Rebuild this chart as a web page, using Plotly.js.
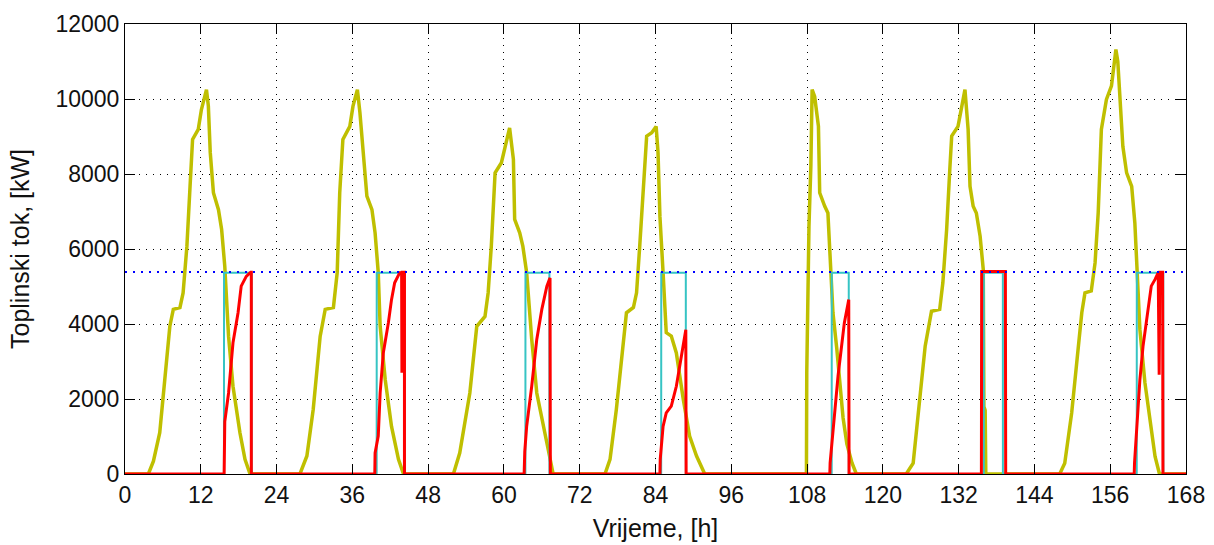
<!DOCTYPE html>
<html>
<head>
<meta charset="utf-8">
<script src="https://cdn.plot.ly/plotly-3.0.1.min.js"></script>
<style>html,body{margin:0;padding:0;background:#fff;}#chart{width:1214px;height:545px;}</style>
</head>
<body>
<div id="chart"></div>
<script>
// Time axis ticks [h]
const xTicks = [0, 12, 24, 36, 48, 60, 72, 84, 96, 108, 120, 132, 144, 156, 168];
const yTicks = [0, 2000, 4000, 6000, 8000, 10000, 12000];

// Yellow series: heat flow profile [h], [kW]
const yellowT = [0, 3.7, 4.5, 5.5, 6.3, 7.1, 7.65, 8.7, 9.2, 9.8, 10.3, 10.7, 11.6, 12.1, 12.9, 13.2, 13.5, 14.0, 14.8, 15.3, 15.8, 16.4, 17.1, 18.2, 19.0, 19.8,
  27.7, 28.8, 29.8, 30.9, 31.7, 33.0, 33.6, 34.0, 34.5, 35.6, 36.1, 36.8, 37.2, 37.7, 38.3, 39.1, 39.6, 40.1, 40.4, 41.2, 42.2, 43.3, 44.1,
  52.0, 53.0, 54.6, 55.7, 57.0, 57.5, 58.0, 58.6, 59.6, 60.4, 60.9, 61.5, 61.7, 62.5, 63.0, 63.6, 64.4, 65.2, 66.3, 67.3, 67.8,
  76.0, 76.8, 77.8, 78.6, 79.4, 80.5, 81.0, 81.5, 82.1, 82.6, 83.4, 84.1, 84.4, 84.7, 85.2, 85.7, 86.5, 87.3, 88.4, 89.4, 90.5, 91.8,
  107.9, 107.95, 108.3, 108.6, 108.8, 109.2, 109.8, 110.0, 110.8, 111.3, 111.6, 112.1, 112.7, 113.2, 113.7, 114.3, 115.1, 115.8,
  123.7, 124.8, 125.9, 126.7, 127.7, 129.0, 129.5, 130.1, 130.6, 130.9, 131.9, 132.5, 133.0, 133.5, 133.8, 134.3, 134.8, 135.4, 135.9, 136.0, 136.2, 136.3,
  148.0, 148.8, 149.9, 150.7, 151.5, 152.0, 153.0, 153.6, 154.1, 154.6, 155.4, 156.2, 156.9, 157.2, 157.5, 158.0, 158.6, 159.4, 159.9, 160.3, 160.7, 161.5, 162.3, 163.1, 163.8, 168];
const yellowQ = [0, 0, 340, 1100, 2520, 3940, 4390, 4440, 4830, 6070, 7670, 8920, 9190, 9720, 10250, 9810, 8570, 7500, 7050, 6520, 5540, 3670, 2340, 1100, 390, 0,
  0, 480, 1720, 3670, 4390, 4440, 5370, 7500, 8920, 9270, 9810, 10250, 9630, 8480, 7410, 7050, 6430, 5370, 3940, 2520, 1270, 390, 0,
  0, 560, 2160, 3940, 4200, 4830, 6070, 8030, 8300, 8920, 9230, 8390, 6790, 6430, 6070, 5370, 3590, 2160, 1270, 390, 0,
  0, 390, 1720, 3050, 4300, 4440, 4830, 6070, 7500, 9010, 9100, 9270, 8570, 6870, 5370, 3770, 3680, 3230, 1990, 1010, 480, 0,
  0, 2700, 6610, 8210, 10250, 10070, 9270, 7500, 7140, 6960, 5950, 4300, 3350, 2300, 1500, 800, 300, 0,
  0, 290, 2070, 3410, 4340, 4390, 5100, 6520, 8120, 9010, 9270, 9810, 10250, 9190, 7670, 7140, 6960, 6340, 5450, 1800, 1700, 0,
  0, 290, 1630, 2970, 4300, 4830, 4880, 5630, 6970, 9190, 9990, 10350, 11320, 11000, 9990, 8740, 8030, 7670, 6700, 5450, 3850, 2430, 1360, 470, 0, 0];

// Red series [h], [kW]
const redT = [0, 15.7, 15.8, 16.4, 17.1, 17.9, 18.4, 19.2, 19.9, 20.0, 20.0,
  39.55, 39.6, 40.1, 40.4, 40.9, 41.7, 42.2, 42.7, 43.5, 43.8, 43.85, 43.9, 44.25, 44.25,
  63.2, 63.3, 63.6, 64.4, 65.2, 66.0, 66.8, 67.3, 67.35,
  84.7, 84.75, 85.2, 85.7, 86.5, 87.3, 87.8, 88.4, 88.8, 88.85,
  111.6, 111.65, 112.4, 112.9, 113.4, 113.9, 114.5, 114.6, 114.65,
  135.6, 135.65, 139.4, 139.45,
  159.8, 159.85, 160.2, 160.7, 161.2, 161.8, 162.5, 163.1, 163.6, 163.75, 163.85, 164.3, 164.35, 168];
const redQ = [0, 0, 1400, 2160, 3500, 4300, 5010, 5270, 5380, 5380, 0,
  0, 560, 1010, 2160, 3230, 4030, 4650, 5100, 5370, 5370, 2700, 5380, 5380, 0,
  0, 600, 1270, 2340, 3590, 4390, 5010, 5230, 0,
  0, 400, 1270, 1630, 1810, 2340, 2880, 3500, 3850, 0,
  0, 300, 1720, 2610, 3320, 4030, 4560, 4650, 0,
  0, 5400, 5400, 0,
  0, 300, 1190, 2520, 3410, 4210, 5010, 5190, 5370, 2650, 5380, 5380, 0, 0];

// Cyan series [h], [kW]
const cyanT = [0, 15.67, 15.68, 20.05, 20.06, 39.85, 39.86, 44.3, 44.31, 63.4, 63.41, 67.2, 67.21, 84.9, 84.91, 88.8, 88.81,
  111.9, 111.91, 114.6, 114.61, 135.98, 135.99, 139.0, 139.01, 160.2, 160.21, 164.4, 164.41, 168];
const cyanQ = [0, 0, 5370, 5370, 0, 0, 5370, 5370, 0, 0, 5370, 5370, 0, 0, 5370, 5370, 0,
  0, 5370, 5370, 0, 0, 5370, 5370, 0, 0, 5370, 5370, 0, 0];

// Blue dotted limit
const limitT = [0, 168];
const limitQ = [5390, 5390];

const traces = [
  {x: yellowT, y: yellowQ, type: 'scatter', mode: 'lines', line: {color: '#bfbf00', width: 3.5}, hoverinfo: 'skip'},
  {x: cyanT, y: cyanQ, type: 'scatter', mode: 'lines', line: {color: '#36c4c4', width: 2}, hoverinfo: 'skip'},
  {x: redT, y: redQ, type: 'scatter', mode: 'lines', line: {color: '#ff0000', width: 3}, hoverinfo: 'skip'},
  {x: limitT, y: limitQ, type: 'scatter', mode: 'lines', line: {color: '#0000ff', width: 2, dash: '2px,6px'}, hoverinfo: 'skip'}
];

const font = {family: '"Liberation Sans", Arial, sans-serif', color: '#111'};
const layout = {
  width: 1214, height: 545,
  margin: {l: 125, r: 28, t: 24, b: 71, pad: 0},
  paper_bgcolor: '#fff', plot_bgcolor: '#fff',
  showlegend: false,
  font: font,
  xaxis: {
    range: [0, 168], tickvals: xTicks, ticktext: xTicks.map(String),
    ticks: 'inside', ticklen: 10, tickcolor: '#000', tickwidth: 1,
    showline: true, linecolor: '#000', linewidth: 1, mirror: 'ticks',
    showgrid: true, gridcolor: '#000', gridwidth: 1, griddash: '1px,6px',
    zeroline: false,
    tickfont: {family: font.family, size: 23, color: '#111'},
    title: {text: 'Vrijeme, [h]', font: {family: font.family, size: 25, color: '#111'}, standoff: 12}
  },
  yaxis: {
    range: [0, 12000], tickvals: yTicks, ticktext: yTicks.map(String),
    ticks: 'inside', ticklen: 10, tickcolor: '#000', tickwidth: 1,
    showline: true, linecolor: '#000', linewidth: 1, mirror: 'ticks',
    showgrid: true, gridcolor: '#000', gridwidth: 1, griddash: '1px,6px',
    zeroline: false,
    tickfont: {family: font.family, size: 23, color: '#111'},
    title: {text: 'Toplinski tok, [kW]', font: {family: font.family, size: 25, color: '#111'}, standoff: 18}
  }
};

Plotly.newPlot('chart', traces, layout, {staticPlot: true, displayModeBar: false});
</script>
</body>
</html>
